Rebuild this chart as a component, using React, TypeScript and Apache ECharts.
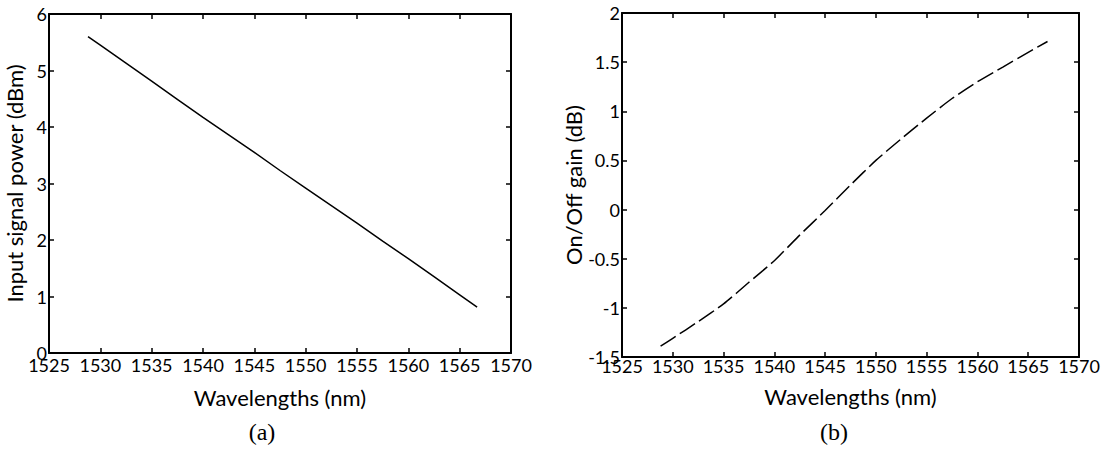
import React, { useEffect, useRef } from "react";
import * as echarts from "echarts";

const wavelengthsA = [1528.8, 1530, 1532.5, 1535, 1537.5, 1540, 1542.5, 1545, 1547.5, 1550, 1552.5, 1555, 1557.5, 1560, 1562.5, 1565, 1566.7];
const inputPower = [5.6, 5.45, 5.13, 4.81, 4.49, 4.17, 3.86, 3.55, 3.23, 2.92, 2.61, 2.3, 1.98, 1.67, 1.35, 1.03, 0.81];

const wavelengthsB = [1528.8, 1530, 1532.5, 1535, 1537.5, 1540, 1542.5, 1545, 1547.5, 1550, 1552.5, 1555, 1557.5, 1560, 1562.5, 1565, 1566.9];
const onOffGain = [-1.39, -1.31, -1.14, -0.96, -0.74, -0.52, -0.26, -0.01, 0.25, 0.5, 0.72, 0.93, 1.13, 1.3, 1.45, 1.6, 1.71];

const FONT = "Lato";

function axisPair(gridIndex: number, min: number, max: number, interval: number) {
  return {
    type: "value",
    gridIndex,
    min,
    max,
    interval,
    splitLine: { show: false },
    axisLine: { show: true, onZero: false, lineStyle: { color: "#000", width: 2 } },
    axisTick: { show: true, inside: true, length: 5, lineStyle: { color: "#000", width: 1.5 } },
  };
}

export default function App() {
  const ref = useRef<HTMLDivElement>(null);
  useEffect(() => {
    document.body.style.margin = "0";
    const chart = echarts.init(ref.current!, undefined, { renderer: "svg" });
    const xBase = (g: number) => axisPair(g, 1525, 1570, 5);
    const fmt = (v: number) => String(v);
    const labelStyle = { color: "#000", fontFamily: FONT, fontSize: 18, formatter: fmt };
    const nameStyle = { color: "#000", fontFamily: FONT, fontSize: 22 };
    chart.setOption({
      animation: false,
      backgroundColor: "#fff",
      grid: [
        { left: 49, top: 14, width: 462, height: 339 },
        { left: 622, top: 13, width: 457, height: 344 },
      ],
      xAxis: [
        {
          ...xBase(0),
          position: "bottom",
          axisLabel: { ...labelStyle, margin: 3 },
          name: "Wavelengths (nm)",
          nameLocation: "middle",
          nameGap: 33,
          nameTextStyle: nameStyle,
        },
        { ...xBase(0), position: "top", axisLabel: { show: false } },
        {
          ...xBase(1),
          position: "bottom",
          axisLabel: { ...labelStyle, margin: 0 },
          name: "Wavelengths (nm)",
          nameLocation: "middle",
          nameGap: 28,
          nameTextStyle: nameStyle,
        },
        { ...xBase(1), position: "top", axisLabel: { show: false } },
      ],
      yAxis: [
        {
          ...axisPair(0, 0, 6, 1),
          position: "left",
          axisLabel: { ...labelStyle, margin: 2 },
          name: "Input signal power (dBm)",
          nameLocation: "middle",
          nameGap: 24,
          nameTextStyle: nameStyle,
        },
        { ...axisPair(0, 0, 6, 1), position: "right", axisLabel: { show: false } },
        {
          ...axisPair(1, -1.5, 2, 0.5),
          position: "left",
          axisLabel: { ...labelStyle, margin: 2 },
          name: "On/Off gain (dB)",
          nameLocation: "middle",
          nameGap: 38,
          nameTextStyle: nameStyle,
        },
        { ...axisPair(1, -1.5, 2, 0.5), position: "right", axisLabel: { show: false } },
      ],
      series: [
        {
          type: "line",
          xAxisIndex: 0,
          yAxisIndex: 0,
          data: wavelengthsA.map((x, i) => [x, inputPower[i]]),
          showSymbol: false,
          lineStyle: { color: "#000", width: 1.5 },
        },
        {
          type: "line",
          xAxisIndex: 2,
          yAxisIndex: 2,
          data: wavelengthsB.map((x, i) => [x, onOffGain[i]]),
          showSymbol: false,
          smooth: 0.2,
          lineStyle: { color: "#000", width: 1.5, type: [18, 5] },
        },
      ],
      graphic: [
        {
          type: "text",
          x: 262,
          y: 432,
          style: { text: "(a)", font: "24px 'Liberation Serif'", fill: "#000", align: "center", verticalAlign: "middle" },
        },
        {
          type: "text",
          x: 834,
          y: 432,
          style: { text: "(b)", font: "24px 'Liberation Serif'", fill: "#000", align: "center", verticalAlign: "middle" },
        },
      ],
    });
    return () => chart.dispose();
  }, []);
  return <div ref={ref} style={{ width: 1108, height: 457 }} />;
}
